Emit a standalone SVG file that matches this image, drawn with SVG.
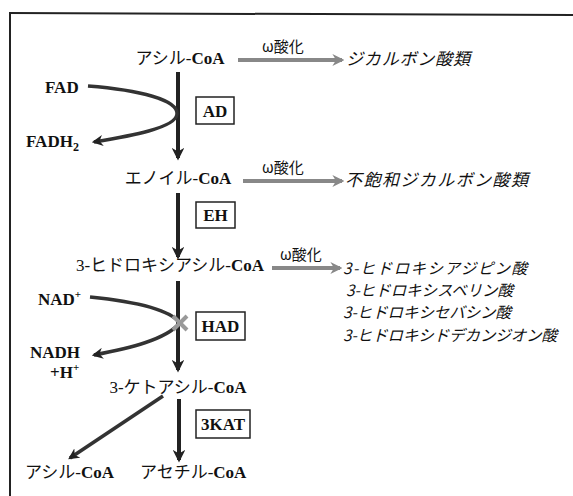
<svg xmlns="http://www.w3.org/2000/svg" width="573" height="496" viewBox="0 0 573 496">
<defs>
<style>
.jp{font-family:"Liberation Serif","Noto Sans CJK JP",serif;font-size:17px;fill:#111}
.it{font-family:"Noto Sans CJK JP",sans-serif;font-size:17px;font-style:italic;fill:#111}
.li{font-family:"Noto Sans CJK JP",sans-serif;font-size:15.5px;font-style:italic;fill:#111}
.b{font-family:"Liberation Serif",serif;font-weight:bold;font-size:17px;fill:#111}
.box{fill:none;stroke:#222;stroke-width:1.5}
.main{stroke:#222;stroke-width:4;fill:none}
.curve{stroke:#333;stroke-width:3.5;fill:none}
.omega{stroke:#888;stroke-width:4;fill:none}
.ol{font-family:"Noto Sans CJK JP",sans-serif;font-size:15px;fill:#111}
</style>
<marker id="ah" viewBox="0 0 10 10" refX="8" refY="5" markerWidth="3.2" markerHeight="3.2" orient="auto" markerUnits="strokeWidth">
<path d="M0,0 L10,5 L0,10 L3,5 Z" fill="#222"/>
</marker>
<marker id="ag" viewBox="0 0 10 10" refX="8" refY="5" markerWidth="3" markerHeight="3" orient="auto" markerUnits="strokeWidth">
<path d="M0,0 L10,5 L0,10 L3,5 Z" fill="#888"/>
</marker>
</defs>
<g id="frame">
<line x1="9" y1="13" x2="573" y2="15" stroke="#222" stroke-width="2"/>
<line x1="10" y1="13" x2="10" y2="496" stroke="#222" stroke-width="2"/>
</g>
<g id="connectors">
<line class="main" x1="178" y1="72" x2="178" y2="158" marker-end="url(#ah)"/>
<line class="main" x1="178" y1="193" x2="178" y2="257" marker-end="url(#ah)"/>
<line class="main" x1="178" y1="281" x2="178" y2="370" marker-end="url(#ah)"/>
<line class="main" x1="179" y1="399" x2="179" y2="460" marker-end="url(#ah)"/>
<line class="curve" x1="163" y1="396" x2="70" y2="458" marker-end="url(#ah)"/>
<path class="curve" d="M88,86 C140,90 178,100 177,114 C176,128 130,136 94,142" marker-end="url(#ah)"/>
<path class="curve" d="M90,297 C140,302 170,310 180,323 C165,340 130,348 94,355" marker-end="url(#ah)"/>
<line class="omega" x1="238" y1="60" x2="342" y2="60" marker-end="url(#ag)"/>
<line class="omega" x1="243" y1="181" x2="342" y2="181" marker-end="url(#ag)"/>
<line class="omega" x1="272" y1="268" x2="340" y2="268" marker-end="url(#ag)"/>
</g>
<g id="x-mark">
<line x1="173" y1="316" x2="187" y2="330" stroke="#999" stroke-width="4"/>
<line x1="187" y1="316" x2="173" y2="330" stroke="#999" stroke-width="4"/>
</g>
<g id="acylcoa"><text class="jp" x="180" y="64" text-anchor="middle">アシル-<tspan font-weight="bold">CoA</tspan></text></g>
<g id="fad"><text class="b" x="45" y="93">FAD</text></g>
<g id="fadh2"><text class="b" x="26" y="147">FADH<tspan font-size="12" dy="4">2</tspan></text></g>
<g id="ad"><rect class="box" x="196" y="97" width="38" height="27"/><text class="b" x="215" y="117" text-anchor="middle">AD</text></g>
<g id="enoylcoa"><text class="jp" x="178" y="184" text-anchor="middle">エノイル-<tspan font-weight="bold">CoA</tspan></text></g>
<g id="eh"><rect class="box" x="196" y="202" width="39" height="26"/><text class="b" x="215.5" y="221" text-anchor="middle">EH</text></g>
<g id="hydroxyacylcoa"><text class="jp" x="170" y="271" text-anchor="middle">3-ヒドロキシアシル-<tspan font-weight="bold">CoA</tspan></text></g>
<g id="nad"><text class="b" x="38" y="305">NAD<tspan font-size="11" dy="-7">+</tspan></text></g>
<g id="nadh"><text class="b" x="30" y="358">NADH</text><text class="b" x="50" y="378">+H<tspan font-size="11" dy="-7">+</tspan></text></g>
<g id="had"><rect class="box" x="196" y="312" width="49" height="28"/><text class="b" x="220.5" y="332" text-anchor="middle">HAD</text></g>
<g id="ketoacylcoa"><text class="jp" x="178" y="393" text-anchor="middle">3-ケトアシル-<tspan font-weight="bold">CoA</tspan></text></g>
<g id="kat"><rect class="box" x="196" y="410" width="54" height="28"/><text class="b" x="223" y="430" text-anchor="middle">3KAT</text></g>
<g id="acylcoa2"><text class="jp" x="25" y="478">アシル-<tspan font-weight="bold">CoA</tspan></text></g>
<g id="acetylcoa"><text class="jp" x="140" y="478">アセチル-<tspan font-weight="bold">CoA</tspan></text></g>
<g id="omega-labels">
<text class="ol" x="262" y="52">ω酸化</text>
<text class="ol" x="262" y="173">ω酸化</text>
<text class="ol" x="280" y="260">ω酸化</text>
</g>
<g id="dicarboxylic"><text class="it" x="346" y="65" textLength="124">ジカルボン酸類</text></g>
<g id="unsat"><text class="it" x="345" y="186" textLength="183">不飽和ジカルボン酸類</text></g>
<g id="hydroxy-acids">
<text class="li" x="343" y="274" textLength="184">3-ヒドロキシアジピン酸</text>
<text class="li" x="346" y="296" textLength="167">3-ヒドロキシスベリン酸</text>
<text class="li" x="343" y="318" textLength="168">3-ヒドロキシセバシン酸</text>
<text class="li" x="343" y="341" textLength="214">3-ヒドロキシドデカンジオン酸</text>
</g>
</svg>
